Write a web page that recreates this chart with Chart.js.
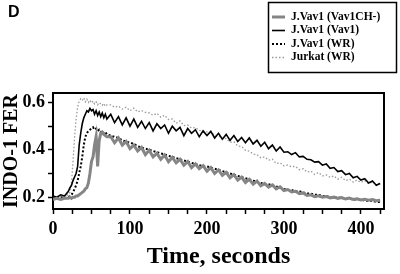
<!DOCTYPE html>
<html>
<head>
<meta charset="utf-8">
<script src="https://cdn.jsdelivr.net/npm/chart.js@4/dist/chart.umd.min.js"></script>
<style>
html,body{margin:0;padding:0;background:#fff;}
#wrap{width:400px;height:274px;}
</style>
</head>
<body>
<div id="wrap"><canvas id="c" width="400" height="274"></canvas></div>
<script>
// time (seconds)
const times = [0,5,10,15,
20,22,24,26,28,30,32,34,36,38,40,42,44,46,48,50,52,54,56,58,60,62,64,66,68,70,
75,80,85,90,95,100,105,110,115,120,125,130,135,140,145,150,155,160,165,170,175,180,185,190,195,200,
205,210,215,220,225,230,235,240,245,250,255,260,265,270,275,280,285,290,295,300,
305,310,315,320,325,330,335,340,345,350,355,360,365,370,375,380,385,390,395,400,405,410,415,420,425];

const seriesLabels = ['J.Vav1 (Vav1CH-)','J.Vav1 (Vav1)','J.Vav1 (WR)','Jurkat (WR)'];

const vav1CH = [0.190,0.195,0.190,0.195,
0.195,0.200,0.195,0.200,0.200,0.205,0.205,0.210,0.215,0.220,0.225,0.235,0.240,0.260,0.300,0.350,0.370,0.420,0.455,0.330,0.440,0.470,0.475,0.465,0.460,0.455,
0.455,0.430,0.450,0.420,0.435,0.405,0.420,0.395,0.410,0.380,0.398,0.370,0.385,0.360,0.378,0.350,0.368,0.345,0.360,0.335,0.350,0.325,0.340,0.320,0.333,0.310,
0.325,0.300,0.315,0.292,0.305,0.282,0.295,0.272,0.285,0.262,0.275,0.255,0.268,0.248,0.258,0.242,0.252,0.235,0.244,0.228,
0.232,0.222,0.225,0.215,0.218,0.207,0.210,0.202,0.206,0.200,0.203,0.197,0.200,0.195,0.198,0.192,0.196,0.190,0.193,0.188,0.191,0.187,0.190,0.185,0.187];

const vav1 = [0.205,0.200,0.210,0.205,
0.225,0.240,0.250,0.270,0.285,0.300,0.330,0.420,0.470,0.510,0.535,0.550,0.565,0.560,0.575,0.565,0.570,0.550,0.565,0.545,0.560,0.540,0.555,0.535,0.550,0.530,
0.550,0.515,0.540,0.505,0.535,0.500,0.530,0.495,0.520,0.490,0.515,0.480,0.510,0.490,0.505,0.470,0.500,0.480,0.495,0.460,0.490,0.470,0.485,0.455,0.480,0.460,
0.478,0.450,0.470,0.445,0.465,0.440,0.460,0.435,0.452,0.430,0.450,0.425,0.440,0.415,0.432,0.405,0.420,0.395,0.412,0.390,
0.392,0.380,0.388,0.370,0.372,0.360,0.358,0.348,0.350,0.335,0.340,0.322,0.325,0.308,0.312,0.295,0.300,0.282,0.288,0.272,0.278,0.260,0.268,0.250,0.258];

const vav1WR = [0.195,0.195,0.200,0.195,
0.200,0.205,0.210,0.220,0.235,0.250,0.270,0.300,0.330,0.370,0.420,0.455,0.470,0.480,0.485,0.490,0.495,0.485,0.490,0.480,0.485,0.475,0.480,0.470,0.475,0.465,
0.460,0.455,0.450,0.440,0.435,0.430,0.425,0.415,0.410,0.405,0.400,0.395,0.390,0.385,0.380,0.375,0.370,0.365,0.360,0.355,0.350,0.345,0.340,0.335,0.330,0.330,
0.325,0.320,0.315,0.310,0.305,0.300,0.295,0.290,0.285,0.280,0.275,0.270,0.265,0.260,0.255,0.255,0.250,0.245,0.240,0.235,
0.230,0.230,0.225,0.225,0.220,0.215,0.215,0.210,0.210,0.205,0.205,0.200,0.200,0.200,0.195,0.195,0.195,0.190,0.190,0.190,0.185,0.185,0.185,0.180,0.180];

const jurkatWR = [0.200,0.198,0.203,0.205,
0.210,0.220,0.260,0.350,0.450,0.530,0.580,0.605,0.615,0.608,0.620,0.603,0.614,0.600,0.610,0.598,0.606,0.594,0.602,0.590,0.600,0.594,0.588,0.596,0.584,0.590,
0.590,0.580,0.585,0.572,0.580,0.565,0.576,0.560,0.566,0.558,0.556,0.546,0.554,0.538,0.546,0.528,0.530,0.512,0.522,0.502,0.505,0.492,0.494,0.482,0.480,0.476,
0.474,0.462,0.460,0.446,0.448,0.432,0.434,0.416,0.414,0.398,0.394,0.382,0.380,0.366,0.370,0.356,0.360,0.342,0.345,0.332,
0.336,0.328,0.330,0.316,0.320,0.306,0.310,0.296,0.304,0.290,0.294,0.284,0.290,0.276,0.284,0.270,0.276,0.264,0.272,0.262,0.270,0.256,0.266,0.250,0.262];

const xTickLabels = [0,100,200,300,400];
const yTickLabels = [0.2,0.4,0.6];

const toPts = arr => arr.map((v,i)=>({x:times[i], y:v}));

const serif = '"Liberation Serif","Times New Roman",serif';

const deco = {
  id:'deco',
  afterDraw(chart){
    const {ctx, chartArea:a} = chart;
    ctx.save();
    ctx.strokeStyle='#000'; ctx.lineWidth=2;
    ctx.beginPath();
    ctx.moveTo(a.left, a.top); ctx.lineTo(a.right, a.top); ctx.lineTo(a.right, a.bottom);
    ctx.stroke();
    // legend
    ctx.lineWidth=1.5;
    ctx.strokeRect(268.5, 2.5, 128, 70);
    chart.data.datasets.forEach((ds,i)=>{
      const y = 17 + i*13.5;
      ctx.beginPath();
      ctx.strokeStyle = ds.borderColor;
      ctx.lineWidth = ds.borderWidth;
      ctx.setLineDash(ds.borderDash || []);
      ctx.moveTo(272,y); ctx.lineTo(285,y); ctx.stroke();
      ctx.setLineDash([]);
      ctx.fillStyle='#000';
      ctx.font='bold 11.5px '+serif;
      ctx.textBaseline='middle'; ctx.textAlign='left';
      ctx.fillText(ds.label, 291, y);
    });
    ctx.font='bold 16px "Liberation Sans",Arial,sans-serif';
    ctx.textBaseline='middle';
    ctx.fillText('D', 8, 13);
    ctx.restore();
  }
};

new Chart(document.getElementById('c'), {
  type:'line',
  data:{
    datasets:[
      {label:seriesLabels[0], data:toPts(vav1CH), borderColor:'#858585', borderWidth:3, pointRadius:0, borderDash:[]},
      {label:seriesLabels[1], data:toPts(vav1), borderColor:'#000000', borderWidth:1.6, pointRadius:0, borderDash:[]},
      {label:seriesLabels[2], data:toPts(vav1WR), borderColor:'#000000', borderWidth:2, pointRadius:0, borderDash:[2,2]},
      {label:seriesLabels[3], data:toPts(jurkatWR), borderColor:'#9a9a9a', borderWidth:1.3, pointRadius:0, borderDash:[1.5,2]}
    ]
  },
  options:{
    responsive:false,
    animation:false,
    events:[],
    layout:{padding:{left:0, right:16, top:93, bottom:0}},
    plugins:{legend:{display:false}, tooltip:{enabled:false}},
    scales:{
      x:{
        type:'linear', min:0, max:430,
        afterFit(s){ s.height = 65; },
        border:{display:true, color:'#000', width:2},
        grid:{drawOnChartArea:false, drawTicks:true, tickLength:5, color:'#000', tickWidth:1.5},
        ticks:{
          stepSize:25, includeBounds:false, autoSkip:false, maxRotation:0,
          color:'#000', padding:5,
          font:{family:serif, size:18, weight:'bold'},
          callback:v => xTickLabels.includes(v) ? String(v) : ''
        },
        title:{display:true, text:'Time, seconds', color:'#000',
          font:{family:serif, size:24, weight:'bold', lineHeight:1}, padding:{top:0, bottom:5}}
      },
      y:{
        type:'linear', min:0.15, max:0.64,
        afterFit(s){ s.width = 53; },
        border:{display:true, color:'#000', width:2},
        grid:{drawOnChartArea:false, drawTicks:true, tickLength:5, color:'#000', tickWidth:1.5},
        ticks:{
          stepSize:0.1, includeBounds:false, autoSkip:false,
          color:'#000', padding:3,
          font:{family:serif, size:18, weight:'bold'},
          callback:v => yTickLabels.some(t=>Math.abs(t-v)<1e-6) ? v.toFixed(1) : ''
        },
        title:{display:true, text:'INDO-1 FER', color:'#000',
          font:{family:serif, size:20, weight:'bold', lineHeight:1}, padding:{top:2, bottom:0}}
      }
    }
  },
  plugins:[deco]
});
</script>
</body>
</html>
